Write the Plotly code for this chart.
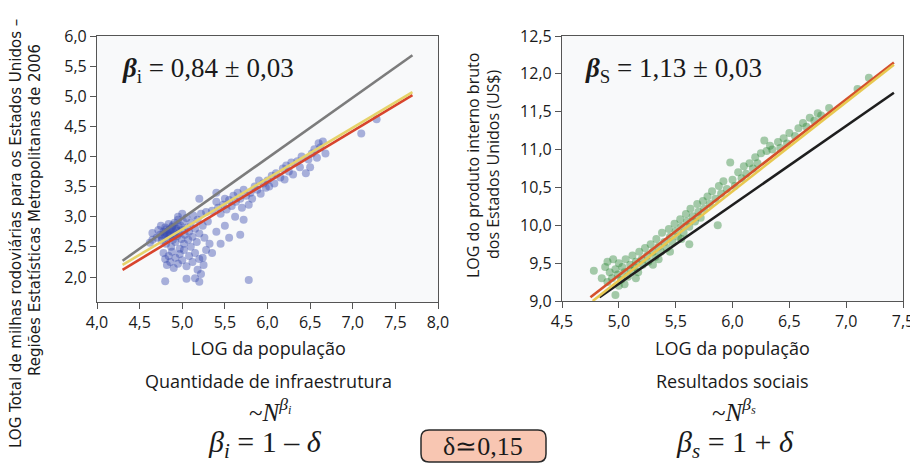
import plotly.graph_objects as go

# The page body adds an 8 px margin, so the figure is shifted by OFF px;
# all layout positions below are expressed in window pixels.
OFF = 8
WIN_W, WIN_H = 918, 467
W, H = WIN_W - OFF, WIN_H - OFF

# ---------------- data: left panel (infrastructure) ----------------
left_x = [4.62,4.65,4.70,4.72,4.74,4.75,4.76,4.78,4.79,4.80,4.81,4.82,4.83,4.84,4.85,4.86,4.87,4.88,4.89,4.90,
          4.91,4.92,4.93,4.94,4.95,4.96,4.97,4.98,4.99,5.00,5.01,5.02,5.03,5.05,5.06,5.07,5.08,5.10,5.12,5.13,
          5.15,5.17,5.18,5.20,5.22,5.24,5.26,5.28,5.30,
          4.78,4.80,4.82,4.84,4.86,4.88,4.90,4.92,4.95,4.97,5.00,5.02,5.05,5.08,5.10,5.12,5.15,5.18,5.20,5.22,
          5.25,5.28,5.15,5.20,5.05,4.80,5.78,5.24,5.32,5.35,5.45,5.40,5.50,5.55,5.62,5.68,5.72,
          5.35,5.40,5.42,5.45,5.48,5.50,5.52,5.55,5.58,5.60,5.63,5.65,5.68,5.70,5.72,5.75,5.78,5.80,5.82,5.85,
          5.88,5.90,5.92,5.95,5.98,6.00,6.02,6.05,6.08,6.10,6.15,6.18,6.20,6.22,6.25,6.28,6.30,6.35,6.38,6.40,
          6.45,6.48,6.50,6.52,6.55,6.58,6.60,6.62,6.65,6.68,7.10,7.28,5.20,5.40,4.65,5.00,4.95,
          4.83,4.87,4.91,4.76,4.81,4.89,4.93,4.85,4.79,4.96]
left_y = [2.57,2.73,2.65,2.78,2.70,2.85,2.60,2.75,2.68,2.82,2.55,2.72,2.64,2.88,2.78,2.70,2.50,2.83,2.62,2.74,
          2.90,2.58,2.80,2.68,2.95,2.72,2.47,2.85,2.63,2.78,2.92,2.55,2.70,2.98,2.82,2.62,2.75,2.90,2.67,3.02,
          2.80,2.58,2.95,2.72,3.05,2.85,2.65,3.08,2.92,
          2.40,2.30,2.20,2.35,2.25,2.42,2.15,2.32,2.22,2.38,2.28,2.45,2.18,2.35,2.50,2.25,2.40,2.12,2.30,2.05,
          2.20,2.45,1.98,1.92,1.97,1.93,1.95,2.32,2.55,2.40,2.55,2.75,2.85,2.65,3.00,2.70,2.95,
          3.10,3.25,3.15,3.05,3.20,3.30,3.12,3.28,3.18,3.35,3.25,3.40,3.30,3.15,3.45,3.35,3.20,3.40,3.30,3.50,
          3.45,3.60,3.38,3.55,3.48,3.60,3.50,3.68,3.55,3.72,3.65,3.80,3.62,3.85,3.75,3.90,3.70,3.92,3.82,4.00,
          3.72,3.95,3.82,4.05,4.12,3.98,4.22,4.15,4.25,4.05,4.38,4.62,3.30,3.40,2.62,3.05,3.00,
          2.76,2.80,2.70,2.66,2.79,2.86,2.77,2.68,2.72,2.83]

# fit lines (end points)
left_gray_x = [4.30, 7.70]
left_gray_y = [2.27, 5.68]
left_yellow_x = [4.30, 7.70]
left_yellow_y = [2.20, 5.07]
left_red_x = [4.30, 7.70]
left_red_y = [2.12, 5.02]

# ---------------- data: right panel (social outputs) ----------------
right_x = [4.78,4.97,4.88,4.90,4.92,4.94,4.95,4.97,4.99,5.00,5.02,5.03,5.05,5.06,5.08,5.10,5.11,5.12,5.14,5.15,
           5.17,5.18,5.20,5.21,5.23,5.25,5.26,5.28,5.30,5.32,5.33,5.35,5.37,5.38,5.40,5.42,5.44,5.45,5.47,5.49,
           5.50,5.52,5.54,5.55,5.57,5.59,5.60,5.62,5.63,5.65,5.67,5.69,5.70,5.72,5.74,5.75,5.78,5.80,5.82,5.85,
           5.87,5.88,5.90,5.92,5.95,5.98,6.00,6.02,6.05,6.08,6.10,6.12,6.15,6.18,6.20,6.22,6.25,6.28,6.30,6.33,
           6.35,6.40,6.42,6.45,6.48,6.50,6.55,6.58,6.62,6.65,6.68,6.72,6.75,6.78,5.62,5.45,5.30,5.05,5.15,5.00,
           4.90,4.85,5.55,5.35,6.85,7.10,7.20]
right_y = [9.40,9.08,9.45,9.52,9.38,9.30,9.55,9.42,9.35,9.50,9.28,9.45,9.38,9.55,9.32,9.48,9.40,9.60,9.45,9.52,
           9.38,9.65,9.55,9.48,9.70,9.60,9.52,9.75,9.65,9.58,9.82,9.72,9.65,9.90,9.78,9.70,9.95,9.85,9.78,10.02,
           9.92,9.85,10.08,9.98,9.90,10.15,10.05,9.98,10.22,10.12,10.05,10.28,10.18,10.10,10.32,10.22,10.38,10.28,10.45,10.35,
           10.00,10.52,10.42,10.58,10.48,10.83,10.60,10.52,10.70,10.62,10.78,10.68,10.82,10.75,10.90,10.82,10.95,11.12,10.98,11.05,
           11.00,11.10,11.02,11.15,11.08,11.22,11.18,11.28,11.35,11.30,11.42,11.38,11.48,11.45,9.75,9.65,9.48,9.22,9.30,9.20,
           9.25,9.30,9.82,9.55,11.55,11.80,11.95]

right_red_x = [4.75, 7.42]
right_red_y = [9.05, 12.15]
right_yellow_x = [4.77, 7.42]
right_yellow_y = [9.00, 12.12]
right_black_x = [4.83, 7.42]
right_black_y = [9.05, 11.75]

# ticks
left_xticks = [4.0, 4.5, 5.0, 5.5, 6.0, 6.5, 7.0, 7.5, 8.0]
left_xticktext = ["4,0", "4,5", "5,0", "5,5", "6,0", "6,5", "7,0", "7,5", "8,0"]
left_yticks = [2.0, 2.5, 3.0, 3.5, 4.0, 4.5, 5.0, 5.5, 6.0]
left_yticktext = ["2,0", "2,5", "3,0", "3,5", "4,0", "4,5", "5,0", "5,5", "6,0"]
right_xticks = [4.5, 5.0, 5.5, 6.0, 6.5, 7.0, 7.5]
right_xticktext = ["4,5", "5,0", "5,5", "6,0", "6,5", "7,0", "7,5"]
right_yticks = [9.0, 9.5, 10.0, 10.5, 11.0, 11.5, 12.0, 12.5]
right_yticktext = ["9,0", "9,5", "10,0", "10,5", "11,0", "11,5", "12,0", "12,5"]

# ---------------- figure ----------------
def fx(x):
    return (x - OFF) / W

def fy(y):
    return 1 - (y - OFF) / H

fig = go.Figure()

fig.add_trace(go.Scatter(x=left_x, y=left_y, mode="markers", xaxis="x", yaxis="y",
                         marker=dict(size=8, color="rgba(55,75,175,0.42)", line=dict(width=0)),
                         showlegend=False, hoverinfo="skip"))
for lx, ly, col in [(left_gray_x, left_gray_y, "#7c7c7c"),
                    (left_red_x, left_red_y, "#d8442c"),
                    (left_yellow_x, left_yellow_y, "#e6d36a")]:
    fig.add_trace(go.Scatter(x=lx, y=ly, mode="lines", xaxis="x", yaxis="y",
                             line=dict(color=col, width=2.6), showlegend=False, hoverinfo="skip"))

fig.add_trace(go.Scatter(x=right_x, y=right_y, mode="markers", xaxis="x2", yaxis="y2",
                         marker=dict(size=8, color="rgba(45,135,55,0.42)", line=dict(width=0)),
                         showlegend=False, hoverinfo="skip"))
for lx, ly, col in [(right_black_x, right_black_y, "#1e1e1e"),
                    (right_red_x, right_red_y, "#d4502c"),
                    (right_yellow_x, right_yellow_y, "#e8c850")]:
    fig.add_trace(go.Scatter(x=lx, y=ly, mode="lines", xaxis="x2", yaxis="y2",
                             line=dict(color=col, width=2.6), showlegend=False, hoverinfo="skip"))

tickfont = dict(family="Open Sans", size=16, color="#1a1a1a")
axis_common = dict(showgrid=False, zeroline=False, showline=True, mirror=True, automargin=False,
                   linecolor="#555", linewidth=1.2, ticks="outside", ticklen=6,
                   tickcolor="#555", tickfont=tickfont, fixedrange=True)

# hidden window-pixel axes covering the whole page, used to place texts
pix_axis = dict(visible=False, showgrid=False, zeroline=False, automargin=False, fixedrange=True)

fig.update_layout(
    width=W, height=H,
    margin=dict(l=0, r=0, t=0, b=0, pad=0, autoexpand=False),
    paper_bgcolor="white",
    plot_bgcolor="rgba(0,0,0,0)",
    xaxis=dict(domain=[fx(97), fx(438)], range=[4.0, 8.0], tickvals=left_xticks,
               ticktext=left_xticktext, anchor="y", **axis_common),
    yaxis=dict(domain=[fy(302), fy(36)], range=[1.585, 6.0], tickvals=left_yticks,
               ticktext=left_yticktext, anchor="x", **axis_common),
    xaxis2=dict(domain=[fx(562), fx(903)], range=[4.5, 7.5], tickvals=right_xticks,
                ticktext=right_xticktext, anchor="y2", **axis_common),
    yaxis2=dict(domain=[fy(301), fy(36)], range=[9.0, 12.5], tickvals=right_yticks,
                ticktext=right_yticktext, anchor="x2", **axis_common),
    xaxis3=dict(domain=[0, 1], range=[OFF, OFF + W], anchor="y3", **pix_axis),
    yaxis3=dict(domain=[0, 1], range=[OFF + H, OFF], anchor="x3", **pix_axis),
)

# light plot backgrounds
for xr, yr in [("x domain", "y domain"), ("x2 domain", "y2 domain")]:
    fig.add_shape(type="rect", xref=xr, yref=yr, x0=0, x1=1, y0=0, y1=1,
                  fillcolor="#f8f9fa", line=dict(width=0), layer="below")

ann = []
sans = "Open Sans"
serif = "Liberation Serif"

def add_text(x, y, text, size, family=sans, xanchor="center", yanchor="middle", angle=0, color="#1a1a1a"):
    ann.append(dict(x=x, y=y, xref="x3", yref="y3", text=text, showarrow=False,
                    xanchor=xanchor, yanchor=yanchor, textangle=angle,
                    font=dict(family=family, size=size, color=color)))

# axis titles
add_text(268, 348, "LOG da população", 18)
add_text(732, 348, "LOG da população", 18)
add_text(16, 234, "LOG Total de milhas rodoviárias para os Estados Unidos –", 15,
         family="DejaVu Sans", angle=-90)
add_text(35, 210, "Regiões Estatísticas Metropolitanas de 2006", 15,
         family="DejaVu Sans", angle=-90)
add_text(473, 166, "LOG do produto interno bruto", 16, angle=-90)
add_text(493, 164, "dos Estados Unidos (US$)", 16, angle=-90)

# beta annotations inside plots
add_text(120, 70, "<b><i>β</i></b><sub>i</sub> = 0,84 ± 0,03", 27, family=serif, xanchor="left")
add_text(583, 70, "<b><i>β</i></b><sub>S</sub> = 1,13 ± 0,03", 27, family=serif, xanchor="left")

# bottom texts
add_text(268, 381, "Quantidade de infraestrutura", 18)
add_text(732, 381, "Resultados sociais", 18)
add_text(270, 410, "~<i>N</i><sup><i>β<sub>i</sub></i></sup>", 25, family=serif)
add_text(734, 410, "~<i>N</i><sup><i>β<sub>s</sub></i></sup>", 25, family=serif)
add_text(265, 444, "<i>β</i><sub><i>i</i></sub> = 1 – <i>δ</i>", 30, family=serif)
add_text(735, 444, "<i>β</i><sub><i>s</i></sub> = 1 + <i>δ</i>", 30, family=serif)
add_text(483, 446, "δ≃0,15", 26, family=serif)

fig.update_layout(annotations=ann)

# rounded box around delta (window-pixel coordinates on the hidden axes)
x0, x1, y0, y1, r = 421, 546, 430, 462, 8
path = (f"M {x0+r},{y0} L {x1-r},{y0} Q {x1},{y0} {x1},{y0+r} L {x1},{y1-r} "
        f"Q {x1},{y1} {x1-r},{y1} L {x0+r},{y1} Q {x0},{y1} {x0},{y1-r} "
        f"L {x0},{y0+r} Q {x0},{y0} {x0+r},{y0} Z")
fig.add_shape(type="path", path=path, xref="x3", yref="y3",
              fillcolor="#f8c6b2", line=dict(color="#2a2a2a", width=1.5), layer="below")

fig.write_html("out.html")
